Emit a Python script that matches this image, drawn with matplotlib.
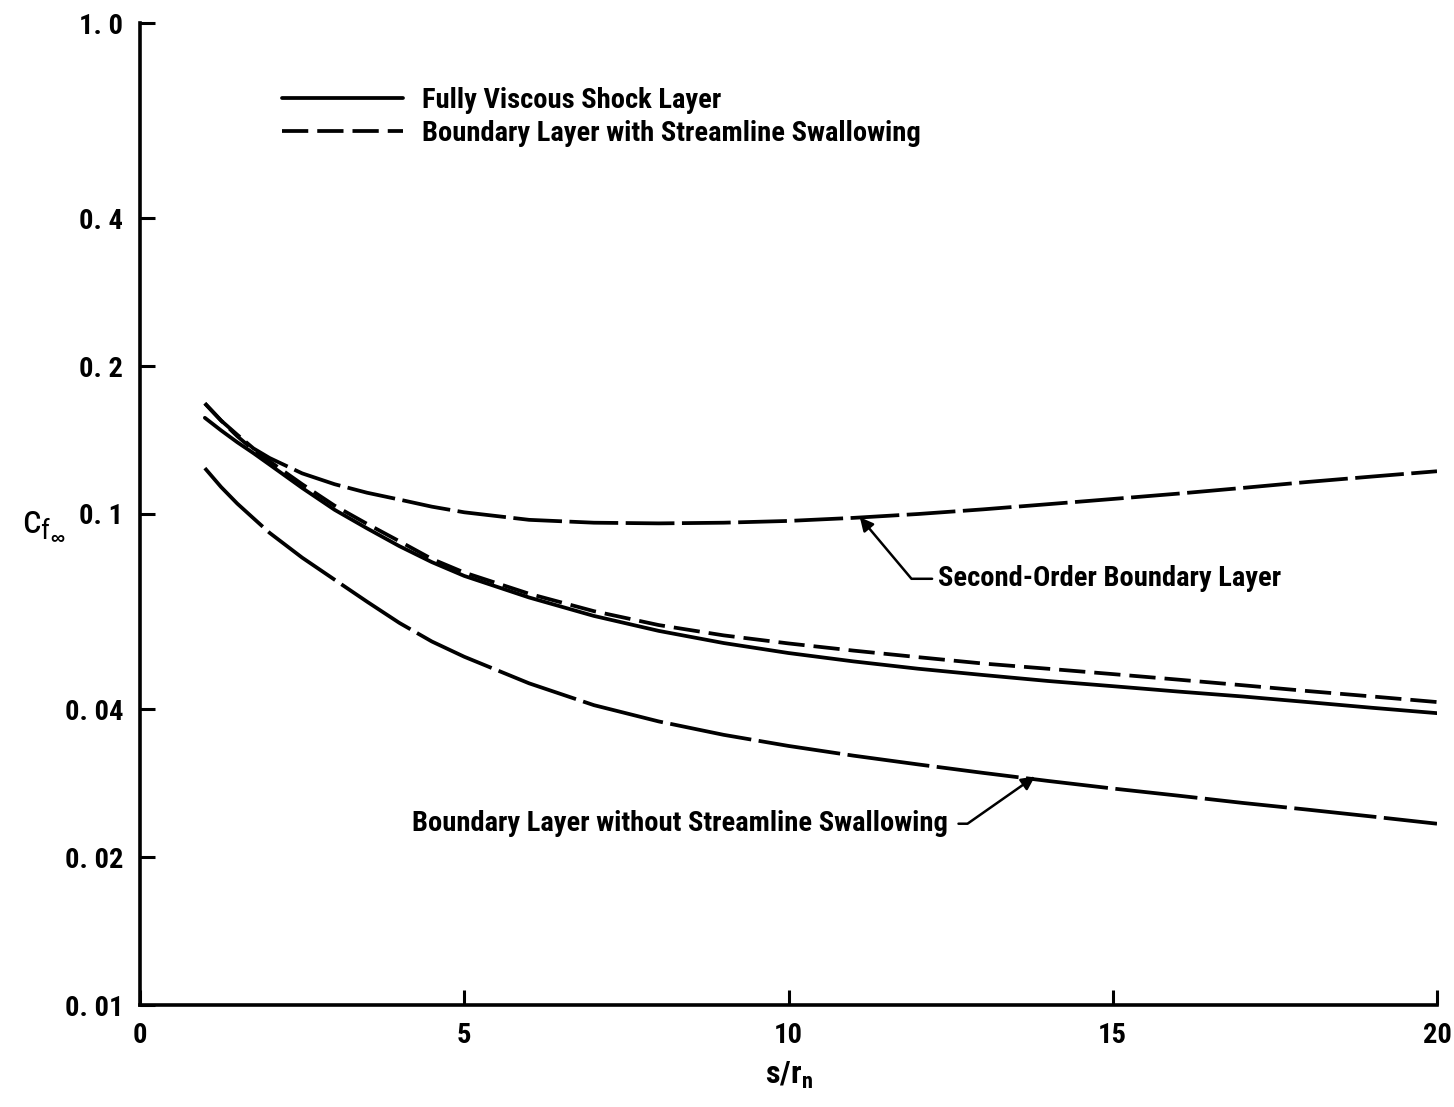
import matplotlib
matplotlib.use("Agg")
import matplotlib.pyplot as plt

FAMILIES = ['Liberation Sans Narrow', 'DejaVu Sans Condensed', 'Roboto Condensed',
            'Liberation Sans', 'DejaVu Sans']
plt.rcParams['font.family'] = FAMILIES
plt.rcParams['mathtext.fontset'] = 'custom'
plt.rcParams['mathtext.rm'] = 'Liberation Sans:bold'
plt.rcParams['mathtext.it'] = 'Liberation Sans:bold'

# Skin-friction coefficient along the body, s/r_n
s = [1, 1.25, 1.5, 1.75, 2, 2.5, 3, 3.5, 4, 4.5, 5, 6, 7, 8, 9, 10,
     11, 12, 13, 14, 15, 16, 17, 18, 19, 20]

cf_fully_viscous = [0.157, 0.148, 0.140, 0.133, 0.126, 0.113, 0.102, 0.0935, 0.0860,
                    0.0798, 0.0748, 0.0676, 0.0620, 0.0578, 0.0546, 0.0521, 0.0501,
                    0.0484, 0.0470, 0.0457, 0.0446, 0.0435, 0.0425, 0.0414, 0.0403,
                    0.0393]
cf_bl_swallowing = [0.168, 0.155, 0.144, 0.135, 0.128, 0.115, 0.104, 0.0955, 0.0880,
                    0.0810, 0.0760, 0.0688, 0.0634, 0.0594, 0.0566, 0.0545, 0.0527,
                    0.0511, 0.0496, 0.0484, 0.0472, 0.0460, 0.0448, 0.0436, 0.0425,
                    0.0414]
cf_second_order = [0.168, 0.155, 0.145, 0.136, 0.130, 0.121, 0.115, 0.1105, 0.107,
                   0.1035, 0.1008, 0.0973, 0.0960, 0.0957, 0.0960, 0.0968, 0.0982,
                   0.1000, 0.1022, 0.1047, 0.1073, 0.1100, 0.1130, 0.1162, 0.1192,
                   0.1222]
cf_bl_no_swallowing = [0.124, 0.1135, 0.105, 0.098, 0.0915, 0.0815, 0.0735, 0.0663,
                       0.0600, 0.0550, 0.0512, 0.0452, 0.0408, 0.0378, 0.0355, 0.0337,
                       0.0322, 0.0309, 0.0297, 0.0286, 0.0276, 0.0267, 0.0258, 0.0250,
                       0.0242, 0.0234]

y_ticks = [0.01, 0.02, 0.04, 0.1, 0.2, 0.4, 1.0]
y_tick_labels = ['0. 01', '0. 02', '0. 04', '0. 1', '0. 2', '0. 4', '1. 0']
x_ticks = [0, 5, 10, 15, 20]
x_tick_labels = ['0', '5', '10', '15', '20']

W, H = 1454, 1107
fig = plt.figure(figsize=(W / 100, H / 100), dpi=100)
ax = fig.add_axes([140 / W, 1 - 1005 / H, (1437 - 140) / W, (1005 - 23) / H])

lw = 2.7
ax.plot(s, cf_fully_viscous, color='black', lw=lw, solid_capstyle='round',
        label='Fully Viscous Shock Layer')
ax.plot(s, cf_bl_swallowing, color='black', lw=lw, dashes=(7, 2.4),
        label='Boundary Layer with Streamline Swallowing')
ax.plot(s, cf_second_order, color='black', lw=lw, dashes=(13, 2.0))
ax.plot(s, cf_bl_no_swallowing, color='black', lw=lw, dashes=(22, 2.0))

ax.set_yscale('log')
ax.set_xlim(0, 20)
ax.set_ylim(0.01, 1.0)
ax.minorticks_off()
ax.set_yticks(y_ticks)
ax.set_yticklabels(y_tick_labels)
ax.set_xticks(x_ticks)
ax.set_xticklabels(x_tick_labels)

for side in ('top', 'right'):
    ax.spines[side].set_visible(False)
for side in ('left', 'bottom'):
    ax.spines[side].set_linewidth(2.6)

ax.tick_params(axis='both', direction='in', length=11, width=2.2,
               labelsize=20.5, pad=12)
for lab in ax.get_xticklabels() + ax.get_yticklabels():
    lab.set_fontweight('bold')

ax.set_xlabel(r's/r$_{\mathregular{n}}$', fontsize=23, fontweight='bold', labelpad=8)
ax.set_ylabel(r'$\mathregular{c}_{\mathregular{f}_{\infty}}$', fontsize=29,
              rotation=0, va='center')
ax.yaxis.set_label_coords(-0.074, 0.49)

leg = ax.legend(loc='upper left', bbox_to_anchor=(0.09, 0.961), frameon=False,
                handlelength=4.25, handletextpad=0.65, labelspacing=0.22,
                prop={'size': 20.5, 'weight': 'bold'})

# Curve annotations
ax.annotate('Second-Order Boundary Layer', xy=(11.1, 0.0985), xytext=(12.3, 0.0738),
            fontsize=20.5, fontweight='bold', va='center', ha='left',
            arrowprops=dict(arrowstyle='-|>', color='black', lw=1.8,
                            connectionstyle='angle,angleA=180,angleB=-50,rad=0',
                            shrinkA=2, shrinkB=0, mutation_scale=20))
ax.annotate('Boundary Layer without Streamline Swallowing', xy=(13.8, 0.0292),
            xytext=(12.45, 0.0234),
            fontsize=20.5, fontweight='bold', va='center', ha='right',
            arrowprops=dict(arrowstyle='-|>', color='black', lw=1.8,
                            connectionstyle='angle,angleA=0,angleB=-145,rad=0',
                            shrinkA=6, shrinkB=0, mutation_scale=20))

fig.savefig('out.png', dpi=100, facecolor='white')
